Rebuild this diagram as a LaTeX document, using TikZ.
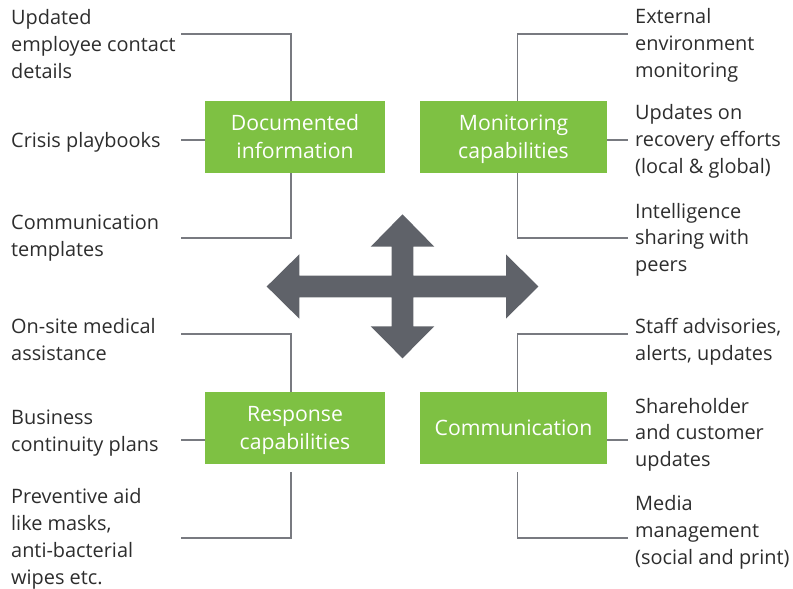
\documentclass[tikz,border=0pt]{standalone}
\usepackage{fontspec}
\setmainfont{Open Sans}
\definecolor{hubgreen}{RGB}{126,193,67}
\definecolor{ink}{RGB}{45,45,45}
\definecolor{linegray}{RGB}{120,122,128}
\definecolor{arrowgray}{RGB}{95,98,105}
% uniform line height inside the green boxes
\newcommand\hubstrut{\rule[-6.3pt]{0pt}{27.3pt}}
\begin{document}
\begin{tikzpicture}[x=1pt,y=-1pt,
  hub/.style={fill=hubgreen, text=white, minimum height=72pt, inner sep=0pt,
    align=center, font=\fontsize{21.2}{27.3}\selectfont},
  item/.style={anchor=base west, inner sep=0pt, align=left, text=ink,
    font=\fontsize{19.9}{26.8}\selectfont},
  link/.style={draw=linegray, line width=1.4pt},
  crossarrow/.style={fill=arrowgray}]
\useasboundingbox (0,0) rectangle (793,589);

% four hubs
\node[hub, minimum width=180pt] (doc) at (295,137) {\hubstrut Documented\\\hubstrut information};
\node[hub, minimum width=187pt] (mon) at (513.5,137) {\hubstrut Monitoring\\\hubstrut capabilities};
\node[hub, minimum width=180pt] (resp) at (295,428) {\hubstrut Response\\\hubstrut capabilities};
\node[hub, minimum width=187pt] (comm) at (513.5,428) {\hubstrut Communication};

% items, left column (anchored at the baseline of their last line)
\node[item] (d1) at (11,78) {Updated\\employee contact\\details};
\node[item] (d2) at (11,147.7) {Crisis playbooks};
\node[item] (d3) at (11,256.7) {Communication\\templates};
\node[item] (r1) at (11,360) {On-site medical\\assistance};
\node[item] (r2) at (11,451) {Business\\continuity plans};
\node[item] (r3) at (11,584.3) {Preventive aid\\like masks,\\anti-bacterial\\wipes etc.};

% items, right column
\node[item] (m1) at (635,77) {External\\environment\\monitoring};
\node[item] (m2) at (635,173.5) {Updates on\\recovery efforts\\(local \& global)};
\node[item] (m3) at (635,271.7) {Intelligence\\sharing with\\peers};
\node[item] (c1) at (635,360.7) {Staff advisories,\\alerts, updates};
\node[item] (c2) at (635,466.7) {Shareholder\\and customer\\updates};
\node[item] (c3) at (635,564.3) {Media\\management\\(social and print)};

% connector ends
\coordinate (ed1) at (181,34);
\coordinate (ed2) at (181,140);
\coordinate (ed3) at (181,238);
\coordinate (er1) at (181,334);
\coordinate (er2) at (181,440);
\coordinate (er3) at (181,538);
\coordinate (em1) at (628,34);
\coordinate (em2) at (628,140);
\coordinate (em3) at (628,238);
\coordinate (ec1) at (628,334);
\coordinate (ec2) at (628,440);
\coordinate (ec3) at (628,538);

% connectors
\draw[link] ([xshift=-4pt]doc.north) |- (ed1);
\draw[link] (doc.west |- ed2) -- (ed2);
\draw[link] ([xshift=-4pt]doc.south) |- (ed3);
\draw[link] ([xshift=4pt]mon.north) |- (em1);
\draw[link] (mon.east |- em2) -- (em2);
\draw[link] ([xshift=4pt]mon.south) |- (em3);
\draw[link] ([xshift=-4pt]resp.north) |- (er1);
\draw[link] (resp.west |- er2) -- (er2);
\draw[link] ([xshift=-4pt,yshift=-8pt]resp.south) |- (er3);
\draw[link] ([xshift=4pt]comm.north) |- (ec1);
\draw[link] (comm.east |- ec2) -- (ec2);
\draw[link] ([xshift=4pt,yshift=-8pt]comm.south) |- (ec3);

% four-way arrow
\fill[crossarrow] (402.5,214.3) -- (434.3,246.7) -- (413.3,246.7) -- (413.3,275.7)
  -- (506,275.7) -- (506,254.3) -- (538.3,286.5) -- (506,318.7) -- (506,297.3)
  -- (413.3,297.3) -- (413.3,326.3) -- (434.3,326.3) -- (402.5,358.3)
  -- (370.7,326.3) -- (391.7,326.3) -- (391.7,297.3) -- (299.3,297.3)
  -- (299.3,318.7) -- (266.7,286.5) -- (299.3,254.3) -- (299.3,275.7)
  -- (391.7,275.7) -- (391.7,246.7) -- (370.7,246.7) -- cycle;
\end{tikzpicture}
\end{document}
